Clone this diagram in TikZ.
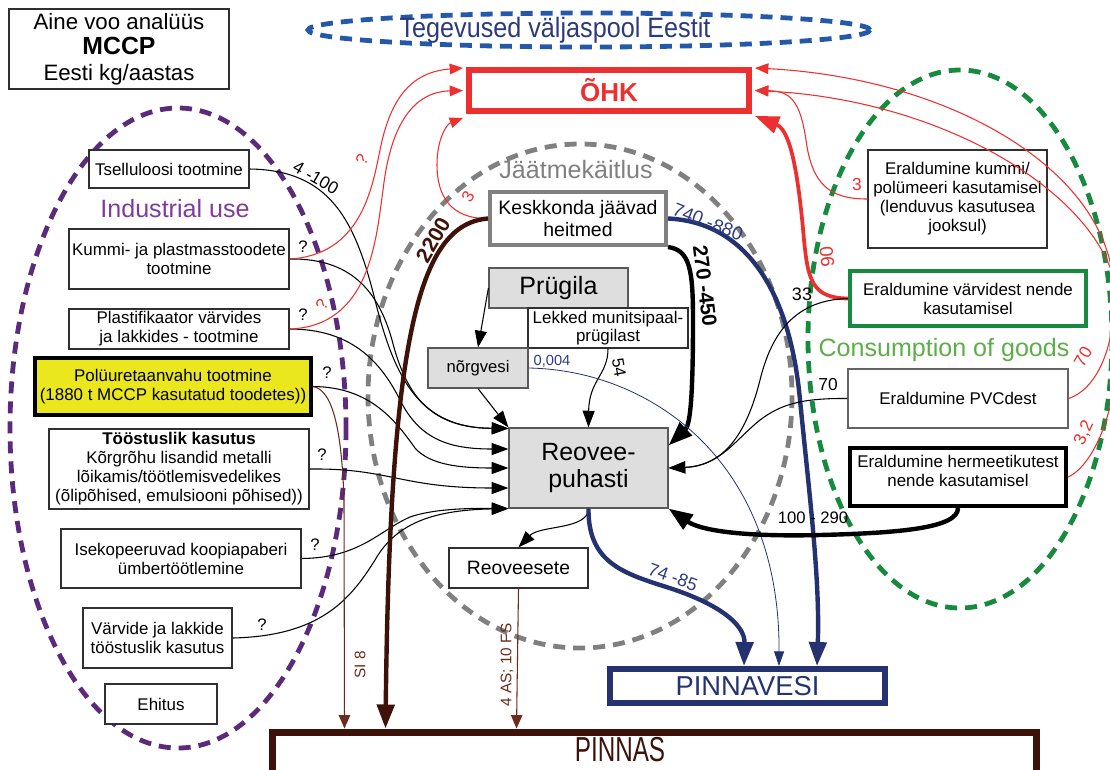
\documentclass[tikz,border=0pt]{standalone}
\usepackage{fontspec}
\setmainfont{Liberation Sans}
\usetikzlibrary{arrows.meta,calc}

\definecolor{ohkred}{HTML}{EE2F2F}
\definecolor{navy}{HTML}{24336F}
\definecolor{navytext}{HTML}{2E3C82}
\definecolor{soil}{HTML}{3E1209}
\definecolor{soilthin}{HTML}{6A2C1E}
\definecolor{wastegray}{HTML}{808080}
\definecolor{boxgray}{HTML}{DEDEDE}
\definecolor{boxline}{HTML}{303030}
\definecolor{foamyellow}{HTML}{EBE71F}
\definecolor{induline}{HTML}{5C2A7A}
\definecolor{indutext}{HTML}{7E3C9E}
\definecolor{consline}{HTML}{168A3E}
\definecolor{constext}{HTML}{5DAE4A}
\definecolor{abroad}{HTML}{2458A8}
\definecolor{abroadtext}{HTML}{2C3A7C}

\newcommand{\bxfont}{\fontsize{12.7}{14.3}\selectfont}

\tikzset{
  box/.style={draw=boxline, line width=0.9pt, fill=white, align=center, inner sep=0pt, font=\bxfont},
  graybox/.style={box, fill=boxgray, draw=boxline!80},
  wire/.style={line width=0.8pt, -{Triangle[length=12.5pt,width=9pt]}},
  redwire/.style={draw=ohkred, line width=0.8pt, -{Triangle[length=10pt,width=8pt]}},
  heavy/.style={line width=3.3pt, -{Triangle[length=18pt,width=13pt]}},
  num/.style={font=\fontsize{12.5}{13}\selectfont, inner sep=0pt},
  rednum/.style={num, text=ohkred},
  ring/.style={line width=3.6pt, dash pattern=on 9pt off 6pt},
}

\begin{document}
\begin{tikzpicture}[x=0.75pt, y=-0.75pt]
\useasboundingbox (0,0) rectangle (1110,769);
\clip (0,0) rectangle (1110,769);
\fill[white] (0,0) rectangle (1110,769);

% grouping rings
\draw[ring, draw=abroad] (589,30) ellipse [x radius=281, y radius=17];
\draw[ring, draw=induline] (178,428) ellipse [x radius=168, y radius=320];
\draw[ring, draw=wastegray] (580,396) ellipse [x radius=212, y radius=252];
\draw[ring, draw=consline] (960,339) ellipse [x radius=152, y radius=269];

\node[text=abroadtext, font=\fontsize{21}{22}\selectfont] (abroadlabel) at (555,30) {\scalebox{0.9}[1]{Tegevused väljaspool Eestit}};
\node[text=indutext, font=\fontsize{18.8}{20}\selectfont] (indulabel) at (175,209) {Industrial use};
\node[text=constext, font=\fontsize{18.8}{20}\selectfont] (conslabel) at (944,350) {Consumption of goods};
\node[text=wastegray, font=\fontsize{18.8}{20}\selectfont] (wastelabel) at (576,170) {Jäätmekäitlus};

% title
\node[box, minimum width=165pt, minimum height=60pt, font=\fontsize{16.7}{19}\selectfont] (title) at (119,49)
  {Aine voo analüüs\\{\fontsize{18.6}{19}\selectfont\bfseries MCCP}\\Eesti kg/aastas};

% compartments
\node[draw=ohkred, line width=4.5pt, fill=white, minimum width=210pt, minimum height=30.75pt, inner sep=0pt,
  text=ohkred, font=\fontsize{19.5}{20}\selectfont\bfseries] (oh) at (609,90.5) {ÕHK};
\node[draw=navy, line width=4.5pt, fill=white, minimum width=206.25pt, minimum height=25.5pt, inner sep=0pt,
  text=navy, font=\fontsize{20.5}{22}\selectfont] (pinv) at (747.5,686) {PINNAVESI};
\node[draw=soil, line width=5.25pt, fill=white, minimum width=573pt, minimum height=45pt, inner sep=0pt] (pinnas) at (654,762) {};
\node[text=soil, font=\fontsize{26}{28}\selectfont] (pinnastext) at (620,750) {\scalebox{0.7}[1]{PINNAS}};

% waste handling
\node[draw=wastegray, line width=3pt, fill=white, minimum width=132pt, minimum height=39.75pt, inner sep=0pt,
  align=center, font=\fontsize{14.6}{17}\selectfont] (kesk) at (578,218.5) {Keskkonda jäävad\\heitmed};
\node[graybox, minimum width=104.25pt, minimum height=30pt, font=\fontsize{18.8}{20}\selectfont] (prug) at (558.5,288) {Prügila};
\node[box, minimum width=120pt, minimum height=30pt, font=\fontsize{12.7}{14}\selectfont] (lekk) at (608,328) {Lekked munitsipaal-\\prügilast};
\node[graybox, minimum width=75pt, minimum height=30pt, font=\fontsize{12.5}{14}\selectfont] (norg) at (478,368) {nõrgvesi};
\node[graybox, minimum width=119.25pt, minimum height=60pt, font=\fontsize{18.7}{20.5}\selectfont] (reo) at (588.5,468) {Reovee-\\puhasti};
\node[box, minimum width=104.25pt, minimum height=30pt, font=\fontsize{14.5}{16}\selectfont] (sete) at (518.5,568) {Reoveesete};

% industrial use
\node[box, minimum width=120pt, minimum height=28.5pt] (tsel) at (169,169) {Tselluloosi tootmine};
\node[box, minimum width=165pt, minimum height=45pt] (kumm) at (179,259) {Kummi- ja plastmasstoodete\\tootmine};
\node[box, minimum width=165pt, minimum height=30pt] (plast) at (179,329) {Plastifikaator värvides\\ja lakkides - tootmine};
\node[box, draw=black, fill=foamyellow, line width=3pt, minimum width=207pt, minimum height=42.75pt] (poly) at (173,386.5)
  {Polüuretaanvahu tootmine\\(1880 t MCCP kasutatud toodetes))};
\node[box, minimum width=195pt, minimum height=60pt] (toos) at (179,469)
  {\textbf{Tööstuslik kasutus}\\Kõrgrõhu lisandid metalli\\lõikamis/töötlemisvedelikes\\(õlipõhised, emulsiooni põhised))};
\node[box, minimum width=180pt, minimum height=44.25pt] (isek) at (181,558.5) {Isekopeeruvad koopiapaberi\\ümbertöötlemine};
\node[box, minimum width=111.75pt, minimum height=45pt] (varv) at (157.5,638) {Värvide ja lakkide\\tööstuslik kasutus};
\node[box, minimum width=84pt, minimum height=30pt] (ehit) at (161,704) {Ehitus};

% consumption of goods
\node[box, minimum width=134.25pt, minimum height=73.5pt] (kpol) at (957.5,199)
  {Eraldumine kummi/\\polümeeri kasutamisel\\(lenduvus kasutusea\\jooksul)};
\node[box, draw=consline, line width=3pt, minimum width=177pt, minimum height=41.25pt] (evarv) at (968,298.5)
  {Eraldumine värvidest nende\\kasutamisel};
\node[box, draw=boxline!75, minimum width=165pt, minimum height=44.25pt] (pvc) at (958,398.5) {Eraldumine PVCdest};
\node[box, draw=black, line width=3pt, minimum width=162pt, minimum height=43.5pt] (herm) at (958,477) {};
\node[align=center, font=\bxfont, inner sep=0pt] (hermtext) at (958,471) {Eraldumine hermeetikutest\\nende kasutamisel};

% end points on the receiving boxes
\coordinate (r1) at ($(reo.north west)+(0,1)$);
\coordinate (r2) at ($(reo.west)+(0,-19)$);
\coordinate (r3) at (reo.west);
\coordinate (r4) at ($(reo.west)+(0,20)$);
\coordinate (r5) at (reo.south west);
\coordinate (ohA) at ($(oh.north west)+(-3,1)$);
\coordinate (ohB) at ($(oh.west)+(-3,0)$);
\coordinate (ohC) at ($(oh.south west)+(-3,4)$);
\coordinate (ohD) at ($(oh.north east)+(3,1)$);
\coordinate (ohE) at ($(oh.east)+(3,0)$);
\coordinate (ohF) at ($(oh.south east)+(3,2)$);
\coordinate (pvA) at ($(pinv.north west)+(137,0)$);
\coordinate (pvB) at ($(pinv.north west)+(172,0)$);
\coordinate (pvC) at ($(pinv.north west)+(210,0)$);
\coordinate (psA) at ($(pinnas.north west)+(76,0)$);
\coordinate (psB) at ($(pinnas.north west)+(117,0)$);
\coordinate (psC) at ($(pinnas.north west)+(248,0)$);

% industrial flows to the treatment plant
\draw[wire] (tsel.east) .. controls (330,170) and (355,220) .. (375,300) .. controls (395,380) and (420,428) .. (r1);
\draw[wire] (kumm.east) .. controls (350,258) and (378,290) .. (392,340) .. controls (406,395) and (430,428) .. (r1);
\draw[wire] (plast.east) .. controls (350,329) and (380,360) .. (400,400) .. controls (420,440) and (450,449) .. (r2);
\draw[wire] (poly.east) .. controls (370,387) and (395,420) .. (415,448) .. controls (430,465) and (460,468) .. (r3);
\draw[wire] (toos.east) .. controls (390,468) and (400,488) .. (r4);
\draw[wire] (isek.east) .. controls (360,558) and (380,530) .. (410,517) .. controls (430,510) and (460,508) .. (r5);
\draw[wire] (varv.east) .. controls (320,636) and (350,600) .. (375,560) .. controls (395,525) and (430,510) .. (r5);

% industrial flows to air and soil
\draw[redwire] (kumm.east) .. controls (360,255) and (372,190) .. (380,150) .. controls (390,100) and (410,72) .. (ohA);
\draw[redwire] (plast.east) .. controls (370,326) and (376,240) .. (383,190) .. controls (390,130) and (410,92) .. (ohB);
\draw[draw=soilthin, line width=0.8pt, -{Triangle[length=10pt,width=8.5pt]}]
  (poly.east) .. controls (335,390) and (342,440) .. (344,500) -- (psA);

% waste handling flows
\draw[redwire] (kesk.west) .. controls (450,219) and (437,195) .. (437,165) .. controls (437,138) and (447,124) .. (ohC);
\draw[heavy, draw=soil] (kesk.west) .. controls (420,224) and (390,330) .. (psB);
\draw[heavy, draw=navy] (kesk.east) .. controls (745,222) and (790,290) .. (800,400) .. controls (810,500) and (820,580) .. (pvC);
\draw[heavy, draw=black] (kesk.south east) .. controls (690,250) and (693,270) .. (693,320) .. controls (693,400) and (690,425) .. ($(reo.north east)+(0,18)$);
\draw[wire] (prug.west) -- (norg.north);
\draw[wire] (norg.south) -- (reo.north west);
\draw[wire] (lekk.south) .. controls (608,375) and (589,380) .. (reo.north);
\draw[draw=navy, line width=0.6pt, -{Triangle[length=11pt,width=7.5pt]}]
  (norg.east) .. controls (650,370) and (780,460) .. (pvB);
\draw[wire] (reo.south) .. controls (588,530) and (540,525) .. (sete.north);
\draw[heavy, draw=navy] (reo.south) .. controls (588,560) and (620,572) .. (660,585) .. controls (720,603) and (745,625) .. (pvA);
\draw[draw=soilthin, line width=0.8pt, -{Triangle[length=10pt,width=8.5pt]}] (sete.south) -- (psC);

% consumption flows
\draw[heavy, draw=ohkred, line width=2.8pt] (evarv.west) .. controls (812,298) and (808,280) .. (804,240) .. controls (798,170) and (790,130) .. (ohF);
\draw[redwire] (kpol.west) .. controls (830,199) and (812,185) .. (806,140) .. controls (800,100) and (790,91) .. (ohE);
\draw[redwire] (pvc.east) .. controls (1095,390) and (1116,350) .. (1114,290) .. controls (1110,170) and (950,78) .. (ohD);
\draw[redwire] (herm.east) .. controls (1095,465) and (1125,400) .. (1118,300) .. controls (1110,200) and (950,100) .. (ohE);
\draw[wire] (evarv.west) .. controls (790,300) and (770,340) .. (760,380) .. controls (745,440) and (720,466) .. (reo.east);
\draw[wire] (pvc.west) .. controls (800,398) and (780,405) .. (760,420) .. controls (735,440) and (720,466) .. (reo.east);
\draw[heavy, draw=black] (herm.south) .. controls (958,528) and (900,533) .. (820,535) .. controls (740,537) and (700,530) .. (reo.south east);

% quantities
\node[num, font=\fontsize{13}{13}\selectfont, rotate=-30] (q1) at (316,178) {4 -100};
\node[num] (q2) at (303,247) {?};
\node[num] (q3) at (303,315) {?};
\node[num] (q4) at (327,373) {?};
\node[num] (q5) at (322,455) {?};
\node[num] (q6) at (315,545) {?};
\node[num] (q7) at (262,625) {?};
\node[rednum, rotate=60] (q8) at (362,160) {?};
\node[rednum, rotate=60] (q9) at (322,305) {?};
\node[rednum, rotate=60] (q10) at (468,197) {3};
\node[num, text=soil, font=\fontsize{16}{16}\selectfont\bfseries, rotate=60] (q11) at (433,240) {2200};
\node[num, text=navytext, font=\fontsize{14}{14}\selectfont, rotate=-22] (q12) at (708,222) {740 -880};
\node[num, font=\fontsize{15.5}{16}\selectfont\bfseries, rotate=-83] (q13) at (705,286) {270 -450};
\node[num, rotate=-80] (q14) at (619,368) {54};
\node[num, text=navytext, font=\fontsize{11}{11}\selectfont] (q15) at (552,361) {0,004};
\node[num, text=navytext, font=\fontsize{13.5}{14}\selectfont, rotate=-20] (q16) at (673,577) {74 -85};
\node[num] (q17) at (813,518) {100 - 290};
\node[num, font=\fontsize{13.5}{14}\selectfont] (q18) at (802,294) {33};
\node[num, font=\fontsize{13}{13}\selectfont] (q19) at (828,385) {70};
\node[rednum, font=\fontsize{14}{14}\selectfont, rotate=95] (q20) at (827,257) {90};
\node[rednum, font=\fontsize{13}{13}\selectfont] (q21) at (857,185) {3};
\node[rednum, font=\fontsize{13}{13}\selectfont, rotate=60] (q22) at (1083,357) {70};
\node[rednum, font=\fontsize{13}{13}\selectfont, rotate=65] (q23) at (1084,433) {3,2};
\node[num, text=soilthin, font=\fontsize{11.5}{12}\selectfont, rotate=90] (q24) at (360,665) {SI 8};
\node[num, text=soilthin, font=\fontsize{11.5}{12}\selectfont, rotate=90] (q25) at (507,665) {4 AS; 10 FS};

\end{tikzpicture}
\end{document}
